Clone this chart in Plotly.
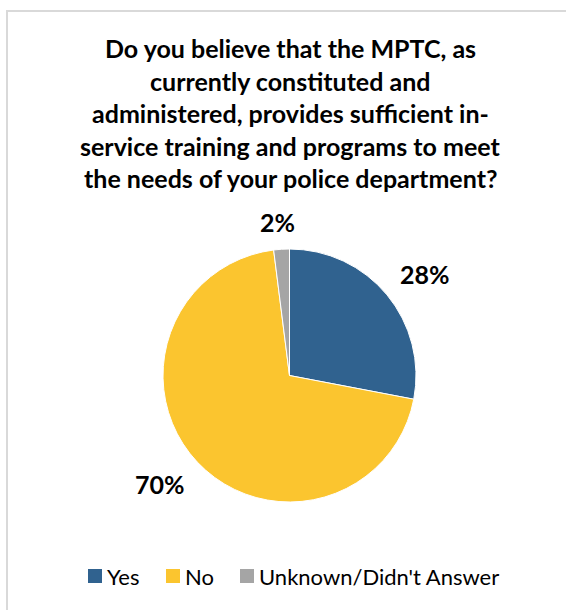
import math
import plotly.graph_objects as go

# Survey responses
categories = ["Yes", "No", "Unknown/Didn't Answer"]
shares = [28, 70, 2]
colors = ["#30628F", "#FBC52F", "#A5A5A5"]

title_lines = [
    "Do you believe that the MPTC, as",
    "currently constituted and",
    "administered, provides sufficient in-",
    "service training and programs to meet",
    "the needs of your police department?",
]

W, H = 566, 610
FONT = "Lato"

# pie geometry in pixels
cx, cy, r = 289.5, 375.5, 126.5


def px(x):
    return x / W


def py(y):
    return 1 - y / H


fig = go.Figure(
    go.Pie(
        labels=categories,
        values=shares,
        marker=dict(colors=colors, line=dict(color="white", width=1)),
        sort=False,
        direction="clockwise",
        rotation=0,
        textinfo="none",
        hoverinfo="label+percent",
        showlegend=False,
        domain=dict(x=[px(cx - r), px(cx + r)], y=[py(cy + r), py(cy - r)]),
    )
)

annotations = []

# title, one annotation per line for exact line spacing
for i, line in enumerate(title_lines):
    annotations.append(dict(
        text=line, x=px(290), y=py(48 + 32.6 * i), xref="paper", yref="paper",
        xanchor="center", yanchor="middle", showarrow=False,
        font=dict(family=FONT, size=25, color="#000000", weight="bold"),
    ))

# percentage labels: the label box corner nearest the pie sits a small gap
# outside the rim along the slice's mid angle
total = sum(shares)
label_size = 25
gap = 19
start = 0.0


def soft_sign(t):
    return max(-1.0, min(1.0, t / 0.3))


for v in shares:
    mid = (start + v / 2) / total * 2 * math.pi
    start += v
    text = f"{round(100 * v / total)}%"
    hw = 0.31 * label_size * len(text)
    hh = 8.5
    s, c = math.sin(mid), math.cos(mid)
    px_, py_ = cx + (r + gap) * s, cy - (r + gap) * c
    lx = px_ + hw * soft_sign(s)
    ly = py_ - hh * soft_sign(c)
    annotations.append(dict(
        text=text, x=px(lx), y=py(ly),
        xref="paper", yref="paper", xanchor="center", yanchor="middle",
        showarrow=False,
        font=dict(family=FONT, size=label_size, color="#000000", weight="bold"),
    ))

# legend row: colour swatch followed by its category name
legend_x = [88, 166, 240]
legend_y = 576
shapes = []
for name, col, x0 in zip(categories, colors, legend_x):
    shapes.append(dict(type="rect", xref="paper", yref="paper",
                       x0=px(x0), x1=px(x0 + 14), y0=py(legend_y + 7), y1=py(legend_y - 7),
                       fillcolor=col, line=dict(width=0)))
    annotations.append(dict(
        text=name, x=px(x0 + 17), y=py(legend_y), xref="paper", yref="paper",
        xanchor="left", yanchor="middle", showarrow=False,
        font=dict(family=FONT, size=22, color="#000000"),
    ))

# chart frame edges
shapes += [
    dict(type="line", xref="paper", yref="paper", x0=px(7), x1=1.0,
         y0=py(11), y1=py(11), line=dict(color="#D9D9D9", width=2)),
    dict(type="line", xref="paper", yref="paper", x0=px(7), x1=px(7),
         y0=py(10), y1=0.0, line=dict(color="#D9D9D9", width=2)),
]

fig.update_layout(
    width=W, height=H,
    margin=dict(l=0, r=0, t=0, b=0),
    paper_bgcolor="white",
    plot_bgcolor="white",
    annotations=annotations,
    shapes=shapes,
    showlegend=False,
)

fig.write_html("out.html")
